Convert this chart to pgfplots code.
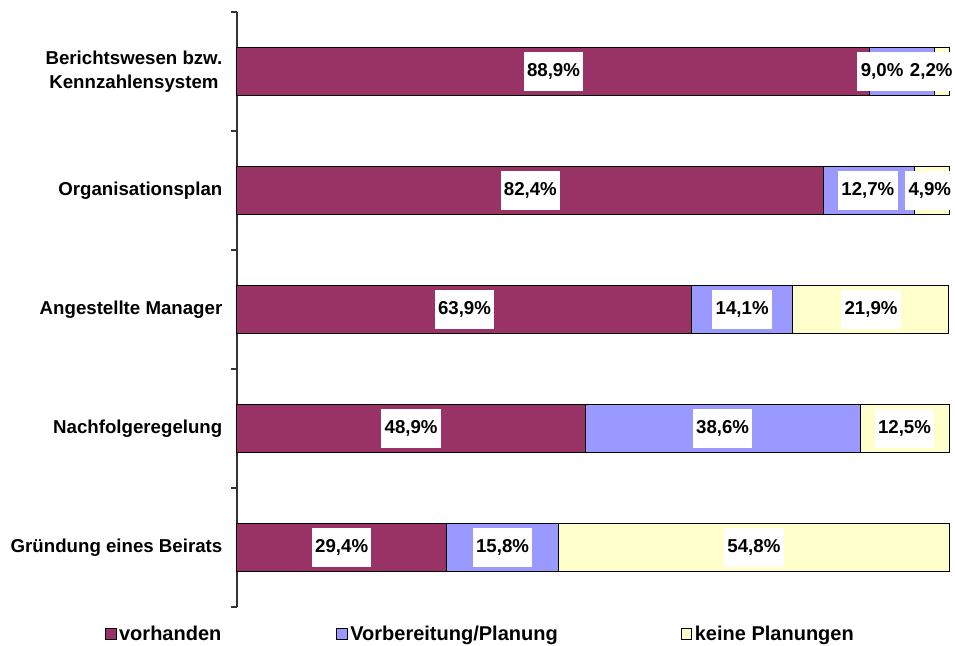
\documentclass[border=0pt]{standalone}
\usepackage{pgfplots}
\pgfplotsset{compat=1.18}
\usepackage{fontspec}
\setmainfont{Liberation Sans}
\definecolor{cVor}{HTML}{993366}
\definecolor{cPlan}{HTML}{9999FF}
\definecolor{cKein}{HTML}{FFFFCC}
\begin{document}
\begin{tikzpicture}
\begin{axis}[
  name=main,
  at={(0,0)}, anchor=south west,
  scale only axis,
  width=534pt, height=446.25pt,
  xbar stacked,
  bar width=36pt,
  xmin=0, xmax=100,
  ymin=-0.5, ymax=4.5,
  y dir=reverse,
  clip=false,
  axis x line=none,
  axis y line*=left,
  axis line style={black!80, line width=0.8pt},
  ytick={0,1,2,3,4},
  yticklabels={{Berichtswesen bzw.\\Kennzahlensystem},{Organisationsplan},{Angestellte Manager},{Nachfolgeregelung},{Gründung eines Beirats}},
  yticklabel style={align=center, font=\fontsize{14}{18}\selectfont\bfseries, xshift=-7.5pt},
  major tick length=0pt,
  minor ytick={-0.5,0.5,1.5,2.5,3.5,4.5},
  minor tick length=4.5pt,
  tick align=outside,
  minor tick style={black!80, line width=0.8pt},
  legend columns=3,
  legend cell align=left,
  legend image code/.code={\draw[#1, draw=black, line width=0.6pt] (0pt,-4.2pt) rectangle (7.8pt,4.2pt);},
  legend style={draw=none, fill=none, at={(axis description cs:0,0)}, anchor=north west, xshift=-99pt, yshift=-12pt, inner sep=0pt,
    font=\fontsize{15}{18}\selectfont\bfseries,
    /tikz/every even column/.append style={column sep=0pt},
    /tikz/every odd column/.append style={column sep=0pt}},
]
\addplot[fill=cVor, draw=black, line width=0.75pt] coordinates {(88.9,0) (82.4,1) (63.9,2) (48.9,3) (29.4,4)};
\addplot[fill=cPlan, draw=black, line width=0.75pt] coordinates {(9.0,0) (12.7,1) (14.1,2) (38.6,3) (15.8,4)};
\addplot[fill=cKein, draw=black, line width=0.75pt] coordinates {(2.2,0) (4.9,1) (21.9,2) (12.5,3) (54.8,4)};
\legend{\makebox[161pt][l]{vorhanden},\makebox[246pt][l]{Vorbereitung/Planung},keine Planungen}
\end{axis}
\begin{axis}[
  at={(0,0)}, anchor=south west,
  scale only axis,
  width=534pt, height=446.25pt,
  xmin=0, xmax=100,
  ymin=-0.5, ymax=4.5,
  y dir=reverse,
  clip=false,
  hide axis,
]
\addplot[draw=none, mark=none, nodes near coords, point meta=explicit symbolic,
  every node near coord/.style={anchor=center, fill=white, inner xsep=2.5pt, inner ysep=8pt, text height=10.5pt, text depth=2.5pt, font=\fontsize{14}{18}\selectfont\bfseries}]
coordinates {
(44.45,0) [88,9\%]
(90.6,0) [9,0\%]
(97.5,0) [2,2\%]
(41.2,1) [82,4\%]
(88.6,1) [12,7\%]
(97.3,1) [4,9\%]
(31.95,2) [63,9\%]
(70.95,2) [14,1\%]
(89.05,2) [21,9\%]
(24.45,3) [48,9\%]
(68.2,3) [38,6\%]
(93.75,3) [12,5\%]
(14.7,4) [29,4\%]
(37.3,4) [15,8\%]
(72.6,4) [54,8\%]
};
\end{axis}
\pgfresetboundingbox
\path[use as bounding box] ([shift={(-177.75pt,-28.5pt)}]main.south west) rectangle ([shift={(4.5pt,9pt)}]main.north east);
\end{tikzpicture}
\end{document}
